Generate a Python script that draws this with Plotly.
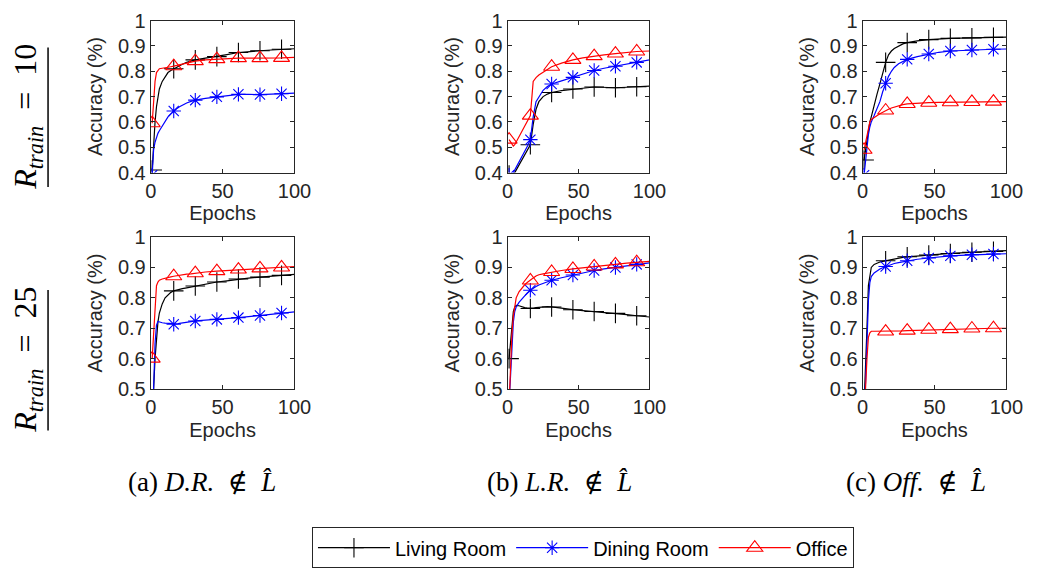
import plotly.graph_objects as go

# Training epochs at which accuracy was recorded, and the epochs that carry markers
EPOCHS = [1, 2, 3, 4, 5, 6, 8, 10, 12, 14, 16, 18, 20, 22, 25, 28, 31, 38, 46, 53, 61, 68, 76, 84, 91, 100]
MARK_EPOCHS = [1, 16, 31, 46, 61, 76, 91]

SERIES = ["Living Room", "Dining Room", "Office"]

# (a) D.R. not in L-hat, R_train = 10
A10_LIVING = [0.41, 0.52, 0.60, 0.66, 0.70, 0.73, 0.76, 0.78, 0.795, 0.803, 0.81, 0.815, 0.822, 0.828, 0.835, 0.84, 0.845, 0.852, 0.858, 0.866, 0.874, 0.878, 0.881, 0.884, 0.887, 0.889]
A10_DINING = [0.39, 0.49, 0.52, 0.54, 0.555, 0.565, 0.585, 0.605, 0.62, 0.632, 0.643, 0.652, 0.66, 0.667, 0.675, 0.681, 0.686, 0.693, 0.699, 0.704, 0.709, 0.709, 0.708, 0.71, 0.711, 0.714]
A10_OFFICE = [0.595, 0.68, 0.76, 0.795, 0.805, 0.81, 0.812, 0.815, 0.817, 0.818, 0.82, 0.822, 0.825, 0.828, 0.832, 0.836, 0.84, 0.845, 0.848, 0.85, 0.852, 0.852, 0.852, 0.853, 0.853, 0.855]

# (a) D.R. not in L-hat, R_train = 25
A25_LIVING = [0.45, 0.50, 0.60, 0.68, 0.72, 0.75, 0.78, 0.80, 0.81, 0.818, 0.823, 0.826, 0.828, 0.83, 0.833, 0.836, 0.839, 0.845, 0.852, 0.856, 0.862, 0.865, 0.868, 0.871, 0.874, 0.877]
A25_DINING = [0.42, 0.50, 0.65, 0.71, 0.722, 0.72, 0.718, 0.717, 0.716, 0.714, 0.713, 0.714, 0.716, 0.718, 0.72, 0.722, 0.724, 0.726, 0.729, 0.731, 0.735, 0.738, 0.742, 0.746, 0.75, 0.754]
A25_OFFICE = [0.60, 0.68, 0.78, 0.84, 0.852, 0.858, 0.862, 0.865, 0.867, 0.869, 0.871, 0.873, 0.875, 0.876, 0.878, 0.879, 0.881, 0.885, 0.888, 0.89, 0.893, 0.895, 0.897, 0.899, 0.90, 0.903]

# (b) L.R. not in L-hat, R_train = 10
B10_LIVING = [0.39, 0.385, 0.385, 0.39, 0.40, 0.41, 0.43, 0.45, 0.47, 0.49, 0.51, 0.59, 0.65, 0.68, 0.70, 0.71, 0.716, 0.724, 0.73, 0.733, 0.738, 0.736, 0.735, 0.737, 0.739, 0.741]
B10_DINING = [0.39, 0.39, 0.39, 0.40, 0.41, 0.42, 0.44, 0.46, 0.48, 0.505, 0.53, 0.62, 0.68, 0.70, 0.725, 0.74, 0.75, 0.762, 0.776, 0.79, 0.803, 0.812, 0.82, 0.828, 0.835, 0.845]
B10_OFFICE = [0.53, 0.52, 0.51, 0.505, 0.51, 0.52, 0.54, 0.565, 0.585, 0.605, 0.625, 0.76, 0.775, 0.785, 0.797, 0.808, 0.818, 0.832, 0.845, 0.853, 0.86, 0.865, 0.87, 0.875, 0.878, 0.88]

# (b) L.R. not in L-hat, R_train = 25
B25_LIVING = [0.60, 0.66, 0.72, 0.755, 0.77, 0.775, 0.774, 0.77, 0.768, 0.766, 0.765, 0.766, 0.768, 0.769, 0.77, 0.771, 0.77, 0.765, 0.761, 0.758, 0.755, 0.751, 0.749, 0.745, 0.741, 0.737]
B25_DINING = [0.45, 0.55, 0.65, 0.72, 0.755, 0.77, 0.785, 0.797, 0.808, 0.817, 0.825, 0.832, 0.837, 0.842, 0.848, 0.853, 0.858, 0.866, 0.875, 0.882, 0.89, 0.895, 0.90, 0.905, 0.91, 0.915]
B25_OFFICE = [0.45, 0.58, 0.68, 0.74, 0.78, 0.80, 0.82, 0.833, 0.843, 0.851, 0.857, 0.865, 0.872, 0.876, 0.879, 0.882, 0.885, 0.89, 0.895, 0.899, 0.903, 0.906, 0.91, 0.914, 0.917, 0.92]

# (c) Off. not in L-hat, R_train = 10
C10_LIVING = [0.45, 0.49, 0.52, 0.56, 0.60, 0.62, 0.67, 0.71, 0.75, 0.795, 0.835, 0.865, 0.88, 0.89, 0.90, 0.908, 0.913, 0.92, 0.925, 0.928, 0.93, 0.931, 0.932, 0.933, 0.934, 0.935]
C10_DINING = [0.39, 0.45, 0.50, 0.55, 0.58, 0.60, 0.625, 0.65, 0.68, 0.72, 0.753, 0.78, 0.80, 0.815, 0.83, 0.84, 0.847, 0.858, 0.868, 0.875, 0.88, 0.882, 0.884, 0.886, 0.887, 0.888]
C10_OFFICE = [0.49, 0.52, 0.55, 0.58, 0.60, 0.61, 0.618, 0.625, 0.632, 0.638, 0.645, 0.65, 0.655, 0.659, 0.664, 0.668, 0.671, 0.674, 0.676, 0.677, 0.678, 0.679, 0.679, 0.68, 0.68, 0.68]

# (c) Off. not in L-hat, R_train = 25
C25_LIVING = [0.45, 0.55, 0.70, 0.84, 0.88, 0.90, 0.91, 0.915, 0.918, 0.92, 0.922, 0.925, 0.927, 0.929, 0.931, 0.933, 0.935, 0.938, 0.941, 0.944, 0.946, 0.948, 0.95, 0.952, 0.953, 0.955]
C25_DINING = [0.45, 0.52, 0.65, 0.79, 0.85, 0.87, 0.882, 0.889, 0.895, 0.899, 0.903, 0.907, 0.91, 0.913, 0.916, 0.919, 0.922, 0.927, 0.931, 0.935, 0.938, 0.94, 0.942, 0.943, 0.944, 0.945]
C25_OFFICE = [0.45, 0.50, 0.60, 0.67, 0.685, 0.69, 0.69, 0.69, 0.689, 0.689, 0.689, 0.69, 0.69, 0.69, 0.691, 0.691, 0.692, 0.693, 0.695, 0.696, 0.697, 0.698, 0.699, 0.699, 0.70, 0.70]

X_TICKS = [0, 50, 100]
Y_TICKS_TOP = [0.4, 0.5, 0.6, 0.7, 0.8, 0.9, 1]
Y_TICKS_BOTTOM = [0.5, 0.6, 0.7, 0.8, 0.9, 1]

CAPTIONS = ["(a)&nbsp;<i>D.R.</i>&nbsp; ∉ &nbsp;<i>L\u0302</i>",
            "(b)&nbsp;<i>L.R.</i>&nbsp; ∉ &nbsp;<i>L\u0302</i>",
            "(c)&nbsp;<i>Off.</i>&nbsp; ∉ &nbsp;<i>L\u0302</i>"]
ROW_LABELS = ["<i>R</i><sub><i>train</i></sub>&nbsp; = &nbsp;10",
              "<i>R</i><sub><i>train</i></sub>&nbsp; = &nbsp;25"]

# ---- styling ----
W, H = 1041, 577
COLORS = {"Living Room": "#000000", "Dining Room": "#0000FF", "Office": "#FF0000"}
SYMBOLS = {"Living Room": "cross-thin", "Dining Room": "asterisk", "Office": "triangle-up-open"}
SIZES = {"Living Room": 14, "Dining Room": 12, "Office": 14}
AX_COLOR = "#262626"
SANS = "Liberation Sans, Arial, sans-serif"
SERIF = "Liberation Serif, DejaVu Serif, serif"
TICK_SIZE = 20

COL_PX = [(148, 295), (513, 658), (876, 1023)]
ROW_PX = [(10, 168), (235, 393)]
CAPTION_X_PX = [200, 566, 931]


def px_x(p):
    return p / W


def px_y(p):
    return 1 - p / H


PANELS = [
    # (row, col, series values, y ticks)
    (0, 0, [A10_LIVING, A10_DINING, A10_OFFICE], Y_TICKS_TOP),
    (0, 1, [B10_LIVING, B10_DINING, B10_OFFICE], Y_TICKS_TOP),
    (0, 2, [C10_LIVING, C10_DINING, C10_OFFICE], Y_TICKS_TOP),
    (1, 0, [A25_LIVING, A25_DINING, A25_OFFICE], Y_TICKS_BOTTOM),
    (1, 1, [B25_LIVING, B25_DINING, B25_OFFICE], Y_TICKS_BOTTOM),
    (1, 2, [C25_LIVING, C25_DINING, C25_OFFICE], Y_TICKS_BOTTOM),
]

fig = go.Figure()
layout = {}
mark_idx = [EPOCHS.index(e) for e in MARK_EPOCHS]

for k, (row, col, values, yticks) in enumerate(PANELS):
    n = k + 1
    xa = "x" if n == 1 else f"x{n}"
    ya = "y" if n == 1 else f"y{n}"
    x0, x1 = COL_PX[col]
    y0, y1 = ROW_PX[row]
    axis_common = dict(
        showline=True, linecolor=AX_COLOR, linewidth=1, mirror="ticks",
        ticks="inside", ticklen=4, tickwidth=1, tickcolor=AX_COLOR,
        showgrid=False, zeroline=False,
        tickfont=dict(family=SANS, size=TICK_SIZE, color=AX_COLOR),
        fixedrange=True,
    )
    layout["xaxis" if n == 1 else f"xaxis{n}"] = dict(
        axis_common, domain=[px_x(x0), px_x(x1)], anchor=ya, range=[0, 100],
        tickvals=X_TICKS,
        title=dict(text="Epochs", font=dict(family=SANS, size=TICK_SIZE, color=AX_COLOR), standoff=5),
    )
    layout["yaxis" if n == 1 else f"yaxis{n}"] = dict(
        axis_common, domain=[px_y(y1), px_y(y0)], anchor=xa, range=[yticks[0], 1],
        tickvals=yticks,
        title=dict(text="Accuracy (%)", font=dict(family=SANS, size=TICK_SIZE, color=AX_COLOR), standoff=9),
    )
    for name, vals in zip(SERIES, values):
        c = COLORS[name]
        fig.add_trace(go.Scatter(
            x=EPOCHS, y=vals, mode="lines", xaxis=xa, yaxis=ya,
            line=dict(color=c, width=1.2), showlegend=False, hoverinfo="skip",
        ))
        fig.add_trace(go.Scatter(
            x=[EPOCHS[i] for i in mark_idx], y=[vals[i] for i in mark_idx],
            mode="markers", xaxis=xa, yaxis=ya, showlegend=False, cliponaxis=True,
            marker=dict(symbol=SYMBOLS[name], size=SIZES[name], color=c,
                        line=dict(color=c, width=1.1)),
        ))

# legend entries: line with its marker
for name in SERIES:
    c = COLORS[name]
    fig.add_trace(go.Scatter(
        x=[None], y=[None], mode="lines+markers", name=name, xaxis="x", yaxis="y",
        line=dict(color=c, width=1.2),
        marker=dict(symbol=SYMBOLS[name], size=SIZES[name], color=c, line=dict(color=c, width=1.1)),
    ))

annotations = []
# sub-figure captions
for col, text in enumerate(CAPTIONS):
    annotations.append(dict(
        text=text, xref="paper", yref="paper", x=px_x(CAPTION_X_PX[col]), y=px_y(490),
        xanchor="center", yanchor="middle", showarrow=False,
        font=dict(family=SERIF, size=27, color="#000000"),
    ))
# row labels with the rule drawn under them
shapes = []
for row, text in enumerate(ROW_LABELS):
    y0, y1 = [(38, 183), (290, 436)][row]
    annotations.append(dict(
        text=text, xref="paper", yref="paper", x=px_x(22), y=px_y((y0 + y1) / 2),
        xanchor="center", yanchor="middle", textangle=-90, showarrow=False,
        font=dict(family=SERIF, size=32, color="#000000"),
    ))
    shapes.append(dict(
        type="line", xref="paper", yref="paper",
        x0=px_x(43), x1=px_x(43), y0=px_y(y0), y1=px_y(y1),
        line=dict(color="#000000", width=1.5),
    ))

layout.update(
    width=W, height=H,
    margin=dict(l=0, r=0, t=0, b=0),
    paper_bgcolor="white", plot_bgcolor="white",
    annotations=annotations, shapes=shapes,
    showlegend=True,
    legend=dict(
        orientation="h", x=px_x(590), y=px_y(558), xanchor="center", yanchor="middle",
        bordercolor=AX_COLOR, borderwidth=1, bgcolor="white",
        font=dict(family=SANS, size=20, color="#000000"),
        itemwidth=72, tracegroupgap=0,
    ),
)
fig.update_layout(**layout)
fig.write_html("out.html")
